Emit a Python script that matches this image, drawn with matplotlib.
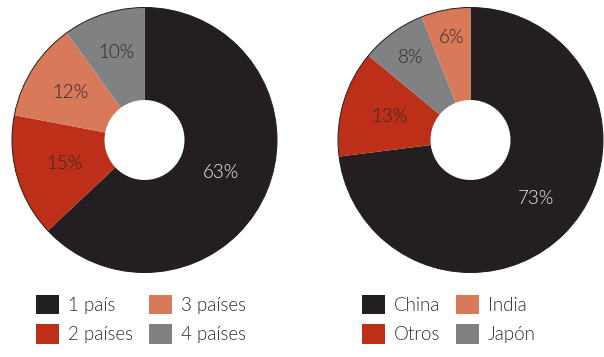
import matplotlib
matplotlib.use("Agg")
import matplotlib.pyplot as plt
from matplotlib.patches import Circle
import numpy as np

plt.rcParams['font.family'] = ['Lato', 'DejaVu Sans']

# Left donut: number of countries
left_labels = ["1 país", "2 países", "3 países", "4 países"]
left_values = [63, 15, 12, 10]
# Right donut: origin
right_labels = ["China", "Otros", "Japón", "India"]
right_values = [73, 13, 8, 6]

DARK = "#231f20"
RED = "#bd2f19"
SALMON = "#d8795a"
GRAY = "#808183"
left_colors = [DARK, RED, SALMON, GRAY]
right_colors = [DARK, RED, GRAY, SALMON]

W, H = 604, 357
fig = plt.figure(figsize=(W / 100, H / 100), dpi=100)
ax = fig.add_axes([0, 0, 1, 1])

R = 132.5
HOLE = 40
FS = 13.5
WT = 300


def donut(center, values, colors, label_r):
    wedges, _ = ax.pie(values, colors=colors, startangle=90, counterclock=False,
                       center=center, radius=R, frame=True,
                       wedgeprops=dict(width=R - HOLE, linewidth=0))
    ax.add_patch(Circle(center, R, fill=False, ec=DARK, lw=0.7, zorder=3))
    for w, v, lr in zip(wedges, values, label_r):
        ang = np.deg2rad((w.theta1 + w.theta2) / 2)
        x = center[0] + lr * np.cos(ang)
        y = center[1] + lr * np.sin(ang)
        col = "#ececec" if w.get_facecolor()[0] < 0.2 else "#2a2a2a"
        ax.text(x, y, f"{v}%", ha="center", va="center", fontsize=FS,
                fontweight=WT, color=col, zorder=4)
    return wedges


lw_ = donut((144.5, H - 140), left_values, left_colors, [83, 83, 88, 92])
rw_ = donut((470.5, H - 140), right_values, right_colors, [88, 85, 102, 104])

leg_kw = dict(ncol=2, frameon=False, handlelength=1.22,
              handleheight=1.22, handletextpad=0.48, columnspacing=0.85,
              labelspacing=0.52, borderpad=0, borderaxespad=0,
              labelcolor="#2e2e2e", prop=dict(weight=WT, size=FS))

leg1 = ax.legend([lw_[0], lw_[1], lw_[2], lw_[3]],
                 [left_labels[0], left_labels[1], left_labels[2], left_labels[3]],
                 loc="upper left", bbox_to_anchor=(36 / W, 1 - 295 / H), **leg_kw)
ax.add_artist(leg1)
leg2 = ax.legend([rw_[0], rw_[1], rw_[3], rw_[2]],
                 [right_labels[0], right_labels[1], right_labels[3], right_labels[2]],
                 loc="upper left", bbox_to_anchor=(362 / W, 1 - 295 / H), **leg_kw)

ax.set_xlim(0, W)
ax.set_ylim(0, H)
ax.set_aspect("equal")
ax.axis("off")

fig.savefig("out.png", dpi=100)
